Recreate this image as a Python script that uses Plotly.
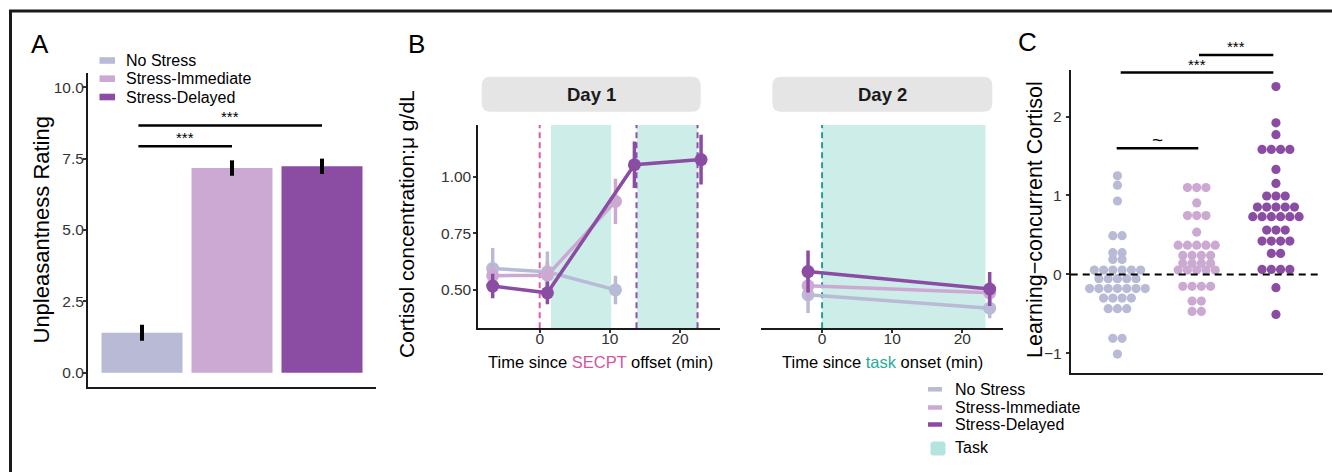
import plotly.graph_objects as go
from collections import Counter, defaultdict

# ---------------- data ----------------
groups = ["No Stress", "Stress-Immediate", "Stress-Delayed"]
group_colors = ["#B8BAD6", "#CCA9D3", "#8A4DA3"]

# Panel A: unpleasantness rating
unpleasant_mean = [1.40, 7.17, 7.23]
unpleasant_se = [0.28, 0.27, 0.27]

# Panel B: cortisol, Day 1 (time since SECPT offset)
day1_time_ns = [-6.7, 1.1, 10.8]
day1_ns = [0.595, 0.580, 0.500]
day1_ns_se = [0.090, 0.090, 0.063]
day1_time_si = [-6.7, 1.1, 10.8]
day1_si = [0.563, 0.565, 0.892]
day1_si_se = [0.050, 0.060, 0.100]
day1_time_sd = [-6.7, 1.1, 13.5, 23.0]
day1_sd = [0.517, 0.487, 1.054, 1.077]
day1_sd_se = [0.054, 0.050, 0.103, 0.110]

# Panel B: cortisol, Day 2 (time since task onset)
day2_time = [-2.0, 23.9]
day2_ns = [0.478, 0.419]
day2_ns_se = [0.080, 0.045]
day2_si = [0.518, 0.487]
day2_si_se = [0.060, 0.050]
day2_sd = [0.581, 0.504]
day2_sd_se = [0.093, 0.075]

day1_task_windows = [(1.6, 10.2), (13.9, 22.5)]
day2_task_windows = [(0.0, 23.3)]
secpt_offset = 0.0
delayed_stress_marks = [13.8, 22.5]
day2_task_onset = 0.0

# Panel C: learning-concurrent cortisol (individual participants)
lc_ns = [1.25, 1.13, 0.93, 0.49, 0.49, 0.275, 0.275, 0.19, 0.19,
         0.055, 0.055, 0.055, 0.055, 0.055, 0.055,
         -0.055, -0.055, -0.055, -0.055, -0.055,
         -0.18, -0.18, -0.18, -0.18, -0.18, -0.18, -0.18,
         -0.30, -0.30, -0.30, -0.30,
         -0.435, -0.435, -0.435, -0.81, -0.81, -1.01]
lc_si = [1.10, 1.10, 1.10, 0.905, 0.745, 0.745, 0.745, 0.535,
         0.37, 0.37, 0.37, 0.37, 0.37,
         0.24, 0.24, 0.24, 0.24,
         0.14, 0.14, 0.14, 0.14,
         0.055, 0.055, 0.055, 0.055, 0.055,
         -0.152, -0.152, -0.152, -0.152,
         -0.338, -0.338, -0.47, -0.47]
lc_sd = [2.38, 1.92, 1.77, 1.584, 1.584, 1.584, 1.584, 1.33, 1.153,
         0.993, 0.993, 0.993,
         0.853, 0.853, 0.853, 0.853, 0.853,
         0.731, 0.731, 0.731, 0.731, 0.731, 0.731,
         0.562, 0.562, 0.562,
         0.422, 0.422, 0.422, 0.422,
         0.266, 0.266,
         0.063, 0.063, 0.063, 0.063,
         -0.169, -0.507]

# ---------------- helpers ----------------
W, H = 1332, 472
FONT = "Liberation Sans, Arial, Helvetica, sans-serif"


def fx(p):
    return p / W


def fy(p):
    return 1 - p / H


def rounded_path(x0, y0, x1, y1, r):
    X, Y = fx, fy
    return (f"M {X(x0 + r)},{Y(y0)} L {X(x1 - r)},{Y(y0)} "
            f"Q {X(x1)},{Y(y0)} {X(x1)},{Y(y0 + r)} L {X(x1)},{Y(y1 - r)} "
            f"Q {X(x1)},{Y(y1)} {X(x1 - r)},{Y(y1)} L {X(x0 + r)},{Y(y1)} "
            f"Q {X(x0)},{Y(y1)} {X(x0)},{Y(y1 - r)} L {X(x0)},{Y(y0 + r)} "
            f"Q {X(x0)},{Y(y0)} {X(x0 + r)},{Y(y0)} Z")


def stack_offsets(vals, step):
    counts = Counter(vals)
    seen = defaultdict(int)
    out = []
    for v in vals:
        n = counts[v]
        i = seen[v]
        seen[v] += 1
        out.append((i - (n - 1) / 2) * step)
    return out


fig = go.Figure()

# ---------------- Panel A ----------------
fig.add_trace(go.Bar(
    x=[1, 2, 3], y=unpleasant_mean, width=0.9,
    marker=dict(color=group_colors, line=dict(width=0)),
    error_y=dict(type="data", array=unpleasant_se, color="black", thickness=4, width=0),
    xaxis="x", yaxis="y", showlegend=False, hoverinfo="skip"))

# ---------------- Panel B ----------------
d1 = [(day1_time_ns, day1_ns, day1_ns_se), (day1_time_si, day1_si, day1_si_se),
      (day1_time_sd, day1_sd, day1_sd_se)]
d2 = [(day2_time, day2_ns, day2_ns_se), (day2_time, day2_si, day2_si_se),
      (day2_time, day2_sd, day2_sd_se)]
for (t, v, e), col in zip(d1, group_colors):
    fig.add_trace(go.Scatter(
        x=t, y=v, mode="lines+markers", line=dict(color=col, width=3.5),
        marker=dict(color=col, size=13),
        error_y=dict(type="data", array=e, color=col, thickness=3.5, width=0),
        xaxis="x2", yaxis="y2", showlegend=False, hoverinfo="skip"))
for (t, v, e), col in zip(d2, group_colors):
    fig.add_trace(go.Scatter(
        x=t, y=v, mode="lines+markers", line=dict(color=col, width=3.5),
        marker=dict(color=col, size=13),
        error_y=dict(type="data", array=e, color=col, thickness=3.5, width=0),
        xaxis="x3", yaxis="y3", showlegend=False, hoverinfo="skip"))

# ---------------- Panel C ----------------
step = 0.117
for k, (vals, col) in enumerate(zip([lc_ns, lc_si, lc_sd], group_colors)):
    offs = stack_offsets(vals, step)
    fig.add_trace(go.Scatter(
        x=[k + 1 + o for o in offs], y=vals, mode="markers",
        marker=dict(color=col, size=9.2, line=dict(width=0)),
        xaxis="x4", yaxis="y4", showlegend=False, hoverinfo="skip"))

# ---------------- axes ----------------
tickfont = dict(family=FONT, size=15.5, color="#333333")
axis_common = dict(showgrid=False, zeroline=False, showline=True,
                   linecolor="#1a1a1a", linewidth=2)
tick_common = dict(ticks="outside", ticklen=3, tickwidth=1.5, tickcolor="#333333",
                   tickfont=tickfont)

fig.update_layout(
    xaxis=dict(domain=[fx(88), fx(376)], range=[0.4, 3.6], anchor="y",
               showticklabels=False, ticks="", **axis_common),
    yaxis=dict(domain=[fy(387), fy(73)], range=[-0.5, 10.5], anchor="x",
               tickvals=[0, 2.5, 5, 7.5, 10],
               ticktext=["0.0", "2.5", "5.0", "7.5", "10.0"],
               ticklabelstandoff=-4, **tick_common, **axis_common),
    xaxis2=dict(domain=[fx(478.3), fx(720)], range=[-8.75, 25.7], anchor="y2",
                tickvals=[0, 10, 20], ticklabelstandoff=-8,
                **tick_common, **axis_common),
    yaxis2=dict(domain=[fy(328.3), fy(125)], range=[0.33, 1.23], anchor="x2",
                tickvals=[0.5, 0.75, 1.0], ticktext=["0.50", "0.75", "1.00"],
                ticklabelstandoff=-1, **tick_common, **axis_common),
    xaxis3=dict(domain=[fx(760.7), fx(1003)], range=[-8.75, 25.8], anchor="y3",
                tickvals=[0, 10, 20], ticklabelstandoff=-8,
                **tick_common, **axis_common),
    yaxis3=dict(domain=[fy(328.3), fy(125)], range=[0.33, 1.23], anchor="x3",
                showticklabels=False, showline=False, showgrid=False,
                zeroline=False, ticks=""),
    xaxis4=dict(domain=[fx(1070.7), fx(1322.7)], range=[0.41, 3.59], anchor="y4",
                showticklabels=False, ticks="", **axis_common),
    yaxis4=dict(domain=[fy(372.7), fy(70)], range=[-1.246, 2.59], anchor="x4",
                tickvals=[-1, 0, 1, 2], ticktext=["\u22121", "0", "1", "2"],
                ticklabelstandoff=1, **tick_common, **axis_common),
    width=W, height=H, margin=dict(l=0, r=0, t=0, b=0),
    paper_bgcolor="white", plot_bgcolor="rgba(0,0,0,0)",
    font=dict(family=FONT, color="black"), showlegend=False,
)

shapes = []
ann = []

# outer frame
shapes.append(dict(type="rect", xref="paper", yref="paper",
                   x0=fx(10.5), x1=fx(1350), y0=fy(11), y1=fy(490),
                   line=dict(color="#1a1a1a", width=3), fillcolor="rgba(0,0,0,0)"))

# panel letters
for letter, x, y in [("A", 40, 44), ("B", 416, 44), ("C", 1027, 42)]:
    ann.append(dict(text=letter, x=fx(x), y=fy(y), xref="paper", yref="paper",
                    showarrow=False, font=dict(size=26, color="black"),
                    xanchor="center", yanchor="middle"))

# Panel A: axis title, legend, significance
ann.append(dict(text="Unpleasantness Rating", x=fx(40.5), y=fy(230), xref="paper",
                yref="paper", showarrow=False, textangle=-90,
                font=dict(size=22, color="black"), xanchor="center", yanchor="middle"))
for name, col, yc in zip(groups, group_colors, [60.5, 78.7, 97]):
    shapes.append(dict(type="rect", xref="paper", yref="paper", x0=fx(99.5), x1=fx(115),
                       y0=fy(yc - 3.3), y1=fy(yc + 3.3), fillcolor=col, line=dict(width=0)))
    ann.append(dict(text=name, x=fx(124), y=fy(yc), xref="paper", yref="paper",
                    showarrow=False, font=dict(size=16, color="black"),
                    xanchor="left", yanchor="middle"))
for (xa, xb, yv) in [(0.96, 2.0, 7.93), (0.96, 3.0, 8.66)]:
    shapes.append(dict(type="line", xref="x", yref="y", x0=xa, x1=xb, y0=yv, y1=yv,
                       line=dict(color="black", width=2.5)))
    ann.append(dict(text="***", x=(xa + xb) / 2, y=yv, xref="x", yref="y",
                    showarrow=False, yshift=9, font=dict(size=15, color="black"),
                    xanchor="center", yanchor="middle"))

# Panel B: strips
for (x0, x1, label) in [(481.7, 700.7, "Day 1"), (772.3, 992.3, "Day 2")]:
    shapes.append(dict(type="path", xref="paper", yref="paper",
                       path=rounded_path(x0, 76.7, x1, 111.7, 9),
                       fillcolor="#E5E5E5", line=dict(width=0)))
    ann.append(dict(text=f"<b>{label}</b>", x=fx((x0 + x1) / 2), y=fy(94.5),
                    xref="paper", yref="paper", showarrow=False,
                    font=dict(size=18.5, color="#1a1a1a"),
                    xanchor="center", yanchor="middle"))

# task shading
TASK_FILL = "#CCEDE8"
for (a, b) in day1_task_windows:
    shapes.append(dict(type="rect", xref="x2", yref="y2 domain", x0=a, x1=b, y0=0, y1=1,
                       fillcolor=TASK_FILL, line=dict(width=0), layer="below"))
for (a, b) in day2_task_windows:
    shapes.append(dict(type="rect", xref="x3", yref="y3 domain", x0=a, x1=b, y0=0, y1=1,
                       fillcolor=TASK_FILL, line=dict(width=0), layer="below"))

# dashed markers
shapes.append(dict(type="line", xref="x2", yref="y2 domain", x0=secpt_offset,
                   x1=secpt_offset, y0=0, y1=1,
                   line=dict(color="#DB5AAA", width=2, dash="6px,4px"), layer="below"))
for xv in delayed_stress_marks:
    shapes.append(dict(type="line", xref="x2", yref="y2 domain", x0=xv, x1=xv, y0=0, y1=1,
                       line=dict(color="#8E4FAA", width=2, dash="6px,4px"), layer="below"))
shapes.append(dict(type="line", xref="x3", yref="y3 domain", x0=day2_task_onset,
                   x1=day2_task_onset, y0=0, y1=1,
                   line=dict(color="#1FA393", width=2, dash="6px,4px"), layer="below"))

# Panel B titles
ann.append(dict(text="Cortisol concentration:\u03bc g/dL", x=fx(406), y=fy(224),
                xref="paper", yref="paper", showarrow=False, textangle=-90,
                font=dict(size=21, color="black"), xanchor="center", yanchor="middle"))
ann.append(dict(text="Time since <span style='color:#D4549F'>SECPT</span> offset (min)",
                x=fx(600.5), y=fy(361.7), xref="paper", yref="paper", showarrow=False,
                font=dict(size=16.5, color="black"), xanchor="center", yanchor="middle"))
ann.append(dict(text="Time since <span style='color:#2AAA9C'>task</span> onset (min)",
                x=fx(882.3), y=fy(361.7), xref="paper", yref="paper", showarrow=False,
                font=dict(size=16.5, color="black"), xanchor="center", yanchor="middle"))

# Panel B legend
for name, col, yc in zip(groups, group_colors, [389.3, 407.5, 424.5]):
    shapes.append(dict(type="line", xref="paper", yref="paper", x0=fx(928), x1=fx(942),
                       y0=fy(yc), y1=fy(yc), line=dict(color=col, width=4.5)))
    ann.append(dict(text=name, x=fx(952.5), y=fy(yc), xref="paper", yref="paper",
                    showarrow=False, font=dict(size=16, color="black"),
                    xanchor="left", yanchor="middle"))
shapes.append(dict(type="path", xref="paper", yref="paper",
                   path=rounded_path(930.5, 441.5, 945.5, 455.5, 3),
                   fillcolor="#B4E4DF", line=dict(width=0)))
ann.append(dict(text="Task", x=fx(952.5), y=fy(447.5), xref="paper", yref="paper",
                showarrow=False, font=dict(size=16, color="black"),
                xanchor="left", yanchor="middle"))

# Panel C
shapes.append(dict(type="line", xref="x4 domain", yref="y4", x0=0, x1=1, y0=0, y1=0,
                   line=dict(color="black", width=2, dash="7px,5px"), layer="above"))
ann.append(dict(text="Learning\u2212concurrent Cortisol", x=fx(1035), y=fy(220),
                xref="paper", yref="paper", showarrow=False, textangle=-90,
                font=dict(size=21.5, color="black"), xanchor="center", yanchor="middle"))
# significance markers (pixel positions)
for (xa, xb, yl, txt, ty, fs) in [(1116.7, 1198.3, 148.3, "~", 139, 19),
                                  (1120.7, 1273.3, 72.5, "***", 64.5, 15),
                                  (1199.0, 1273.3, 55.0, "***", 46.5, 15)]:
    shapes.append(dict(type="line", xref="paper", yref="paper", x0=fx(xa), x1=fx(xb),
                       y0=fy(yl), y1=fy(yl), line=dict(color="black", width=2.5)))
    ann.append(dict(text=txt, x=fx((xa + xb) / 2), y=fy(ty), xref="paper", yref="paper",
                    showarrow=False, font=dict(size=fs, color="black"),
                    xanchor="center", yanchor="middle"))

fig.update_layout(shapes=shapes, annotations=ann)
fig.write_html("out.html", config={"displayModeBar": False},
               post_script="document.body.style.margin='0px';document.body.style.padding='0px';")
